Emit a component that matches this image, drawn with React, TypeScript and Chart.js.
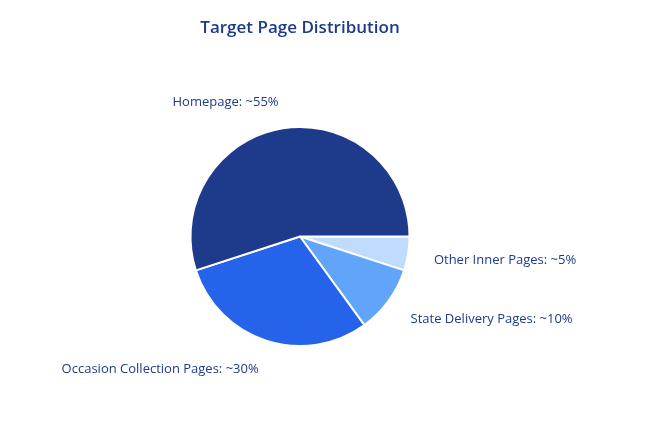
import React, { useEffect, useRef } from "react";
import { Chart, registerables } from "chart.js";

Chart.register(...registerables);

// Order reversed so slices run counter-clockwise from 3 o'clock like the reference
const categories = ["Other Inner Pages", "State Delivery Pages", "Occasion Collection Pages", "Homepage"];
const values = [5, 10, 30, 55];
const labelTexts = ["Other Inner Pages: ~5%", "State Delivery Pages: ~10%", "Occasion Collection Pages: ~30%", "Homepage: ~55%"];
const colors = ["#bfdbfe", "#60a5fa", "#2563eb", "#1e3a8a"];
const titleText = "Target Page Distribution";

const FONT = "'Open Sans', 'Noto Sans', sans-serif";
const TEXT_COLOR = "#1e3a8a";

const outsideLabels = {
  id: "outsideLabels",
  afterDraw(chart: any) {
    const ctx = chart.ctx;
    const meta = chart.getDatasetMeta(0);
    ctx.save();
    // title
    const cx0 = (chart.chartArea.left + chart.chartArea.right) / 2;
    ctx.fillStyle = TEXT_COLOR;
    ctx.font = `600 17px ${FONT}`;
    ctx.textAlign = "center";
    ctx.textBaseline = "middle";
    ctx.fillText(titleText, cx0, 28.5);

    ctx.font = `13px ${FONT}`;
    const h = 13;
    meta.data.forEach((arc: any, i: number) => {
      const { x, y, startAngle, endAngle, outerRadius } = arc.getProps(
        ["x", "y", "startAngle", "endAngle", "outerRadius"],
        true
      );
      const mid = (startAngle + endAngle) / 2;
      const dx = Math.cos(mid);
      const dy = Math.sin(mid);
      const R = outerRadius + 21;
      const px = x + dx * R;
      const py = y + dy * R;
      const cy = py + dy * (h / 2) + 1 + (dy > 0 ? 1.5 : 0);
      ctx.textBaseline = "middle";
      if (dx < 0) {
        ctx.textAlign = "right";
        ctx.fillText(labelTexts[i], px - 1, cy);
      } else {
        ctx.textAlign = "left";
        ctx.fillText(labelTexts[i], px + 5, cy);
      }
    });
    ctx.restore();
  },
};

export default function App() {
  const ref = useRef<HTMLCanvasElement>(null);
  useEffect(() => {
    document.body.style.margin = "0";
    const chart = new Chart(ref.current!, {
      type: "pie",
      data: {
        labels: categories,
        datasets: [
          {
            data: values,
            backgroundColor: colors,
            borderColor: "#ffffff",
            borderWidth: 2,
          },
        ],
      },
      options: {
        responsive: false,
        animation: false,
        rotation: 90,
        layout: { padding: { left: 189.5, right: 254.5, top: 126, bottom: 95 } },
        plugins: {
          legend: { display: false },
          title: { display: false },
          tooltip: { enabled: false },
        },
      },
      plugins: [outsideLabels],
    });
    return () => chart.destroy();
  }, []);
  return (
    <div style={{ position: "fixed", left: 0, top: 0, width: 665, height: 442, background: "#fff" }}>
      <canvas ref={ref} width={665} height={442} />
    </div>
  );
}
